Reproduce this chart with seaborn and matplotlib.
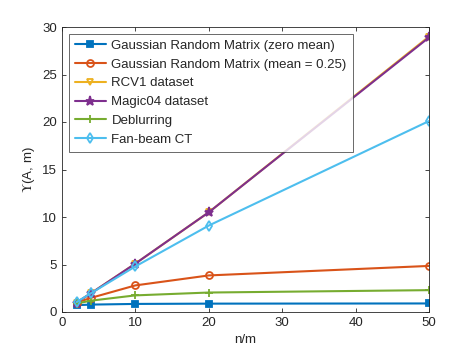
import pandas as pd
import matplotlib
matplotlib.use("Agg")
import matplotlib.pyplot as plt
import seaborn as sns

sns.set_style("ticks")
plt.rcParams['font.family'] = ['Liberation Sans', 'DejaVu Sans']
plt.rcParams['mathtext.fontset'] = 'stix'

# données
n_m = [2, 4, 10, 20, 50]
gauss_zero = [0.72, 0.78, 0.85, 0.88, 0.9]
gauss_025 = [1.0, 1.5, 2.8, 3.85, 4.85]
rcv1 = [1.0, 2.0, 5.1, 10.5, 29.0]
magic04 = [1.0, 2.0, 5.1, 10.5, 28.9]
deblurring = [0.9, 1.2, 1.75, 2.05, 2.3]
fanbeam = [1.05, 2.0, 4.8, 9.1, 20.1]

noms = ["Gaussian Random Matrix (zero mean)", "Gaussian Random Matrix (mean = 0.25)",
        "RCV1 dataset", "Magic04 dataset", "Deblurring", "Fan-beam CT"]
series = [gauss_zero, gauss_025, rcv1, magic04, deblurring, fanbeam]
couleurs = ["#0072BD", "#D95319", "#EDB120", "#7E2F8E", "#77AC30", "#4DBEEE"]
marqueurs = ["s", "o", "v", "*", "+", "d"]
tailles = [4, 5, 5, 6.5, 6, 5]

df = pd.DataFrame({
    "n/m": n_m * len(noms),
    "val": sum(series, []),
    "serie": sum([[n] * len(n_m) for n in noms], []),
})

fig = plt.figure(figsize=(4.73, 3.58), dpi=100)
ax = fig.add_axes([62 / 473, 46 / 358, 367 / 473, 285 / 358])

for nom, c, m, t in zip(noms, couleurs, marqueurs, tailles):
    sub = df[df["serie"] == nom]
    sns.lineplot(data=sub, x="n/m", y="val", ax=ax, color=c, marker=m, markersize=t,
                 markerfacecolor=c if m in ("s", "*") else "none", markeredgecolor=c,
                 markeredgewidth=1.3, linewidth=1.5, label=nom)

ax.set_xlim(0, 50)
ax.set_ylim(0, 30)
ax.set_xticks([0, 10, 20, 30, 40, 50])
ax.set_yticks([0, 5, 10, 15, 20, 25, 30])
ax.set_xlabel("n/m", fontsize=9.5, color="#262626")
ax.set_ylabel(r"$\Upsilon$(A, m)", fontsize=9.5, color="#262626")
ax.tick_params(direction="in", length=3, labelsize=9.5, colors="#262626",
               top=True, right=True, width=0.6)
for s in ax.spines.values():
    s.set_color("#262626")
    s.set_linewidth(0.6)

leg = ax.legend(loc="upper left", fontsize=9.5, frameon=True, fancybox=False,
                edgecolor="#262626", borderaxespad=0.5, handlelength=2.4,
                labelspacing=0.5, borderpad=0.45, handletextpad=0.4)
leg.get_frame().set_linewidth(0.6)

fig.savefig("out.png", dpi=100)
